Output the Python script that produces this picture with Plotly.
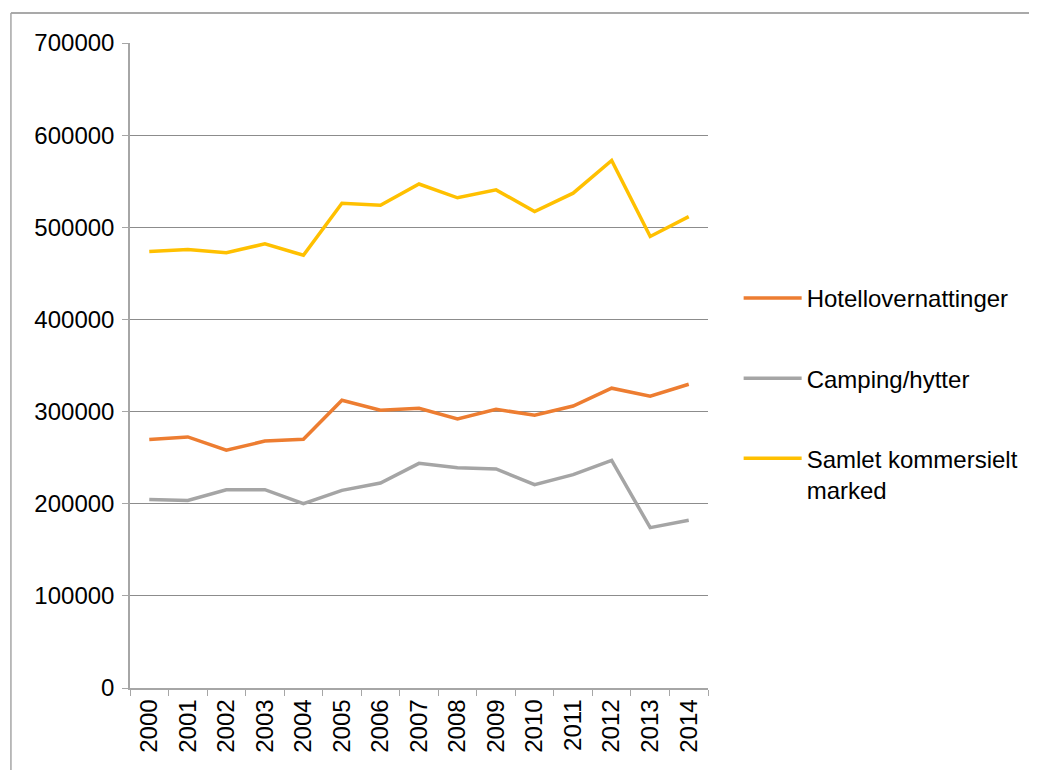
import plotly.graph_objects as go

years = [str(y) for y in range(2000, 2015)]

hotell = [269600, 272500, 258000, 268000, 270000, 312300, 301400, 303600,
          292000, 302500, 296000, 306000, 325400, 316700, 329700]
camping = [204700, 203600, 215200, 215200, 200000, 214500, 222500, 243800,
           239000, 237700, 220700, 231500, 247000, 174000, 182000]
samlet = [473600, 476000, 472500, 482000, 469600, 526000, 524000, 547000,
          532000, 540600, 517000, 537000, 572500, 490000, 511600]

names = ["Hotellovernattinger", "Camping/hytter", "Samlet kommersielt<br>marked"]
colors = ["#ED7D31", "#A5A5A5", "#FFC000"]

font = "Liberation Sans, Arial, sans-serif"

fig = go.Figure()
for i, (vals, name, col) in enumerate(zip([hotell, camping, samlet], names, colors)):
    fig.add_trace(go.Scatter(x=years, y=vals, mode="lines", name=name,
                             legendgroup=str(i),
                             line=dict(color=col, width=3.5)))

# outer chart border (only top and left are visible in the frame)
fig.add_shape(type="line", xref="paper", yref="paper",
              x0=-0.206, y0=1.0465, x1=1.6, y1=1.0465,
              line=dict(color="#8C8C8C", width=1.5))
fig.add_shape(type="line", xref="paper", yref="paper",
              x0=-0.206, y0=1.0465, x1=-0.206, y1=-0.2,
              line=dict(color="#A6A6A6", width=1.5))

fig.update_layout(
    width=1037, height=770,
    margin=dict(l=122, r=337, t=35, b=90),
    paper_bgcolor="white", plot_bgcolor="white",
    font=dict(family=font, size=24, color="black"),
    legend=dict(x=1.053, y=0.639, xanchor="left", yanchor="top",
                tracegroupgap=46, valign="top", itemwidth=58,
                font=dict(family=font, size=24)),
    xaxis=dict(type="category", range=[-0.5, 14.5], tickangle=-90,
               showgrid=False,
               showline=True, linecolor="#A6A6A6", linewidth=1.5,
               ticks="outside", tickson="boundaries", ticklen=6,
               tickcolor="#A6A6A6", tickfont=dict(size=24)),
    yaxis=dict(range=[0, 700000], dtick=100000, tickformat="d",
               showgrid=True, gridcolor="#8C8C8C", gridwidth=1.2,
               showline=True, linecolor="#A6A6A6", linewidth=1.5,
               ticks="outside", ticklen=6, tickcolor="#A6A6A6",
               zeroline=False, ticklabelstandoff=3,
               tickfont=dict(size=24)),
)

fig.write_html("out.html")
